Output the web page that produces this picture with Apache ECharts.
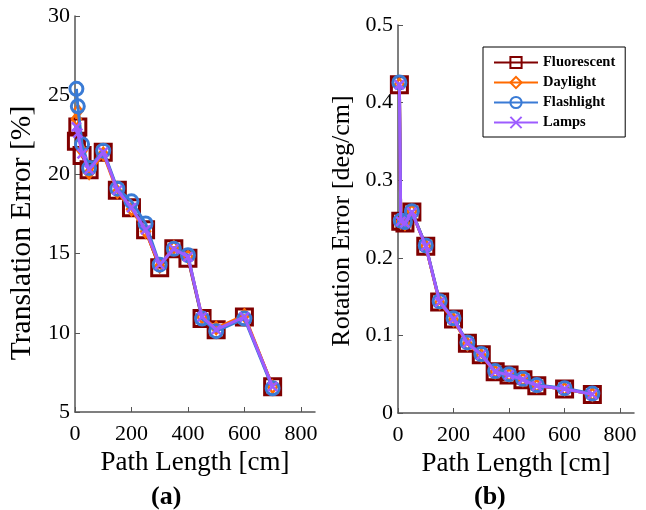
<!DOCTYPE html>
<html>
<head>
<meta charset="utf-8">
<script src="https://cdn.jsdelivr.net/npm/echarts@6/dist/echarts.min.js"></script>
<style>html,body{margin:0;padding:0;background:#fff}#c{width:646px;height:510px}</style>
</head>
<body>
<div id="c"></div>
<script>
// Path lengths [cm]
const pathLength = [5, 10, 25, 50, 100, 150, 200, 250, 300, 350, 400, 450, 500, 600, 700];
const seriesNames = ['Fluorescent', 'Daylight', 'Flashlight', 'Lamps'];
// Translation error [%]
const transFluorescent = [22.1, 23.0, 21.2, 20.3, 21.4, 19.0, 17.9, 16.5, 14.1, 15.3, 14.7, 10.9, 10.2, 11.0, 6.6];
const transDaylight    = [23.5, 24.0, 21.5, 20.1, 21.3, 18.9, 17.8, 16.4, 14.2, 15.4, 14.8, 11.0, 10.3, 11.1, 6.6];
const transFlashlight  = [25.4, 24.3, 21.9, 20.4, 21.5, 19.1, 18.3, 16.9, 14.3, 15.3, 14.9, 10.9, 10.1, 10.9, 6.5];
const transLamps       = [23.0, 22.6, 21.3, 20.3, 21.4, 19.0, 17.9, 16.5, 14.3, 15.3, 14.8, 11.0, 10.2, 11.0, 6.6];
// Rotation error [deg/cm]
const rotFluorescent = [0.423, 0.247, 0.245, 0.259, 0.215, 0.143, 0.121, 0.090, 0.075, 0.053, 0.049, 0.043, 0.035, 0.031, 0.024];
const rotDaylight    = [0.423, 0.246, 0.244, 0.260, 0.215, 0.142, 0.120, 0.089, 0.074, 0.053, 0.049, 0.043, 0.035, 0.031, 0.024];
const rotFlashlight  = [0.426, 0.248, 0.246, 0.260, 0.216, 0.144, 0.122, 0.091, 0.076, 0.054, 0.050, 0.044, 0.036, 0.032, 0.025];
const rotLamps       = [0.423, 0.247, 0.245, 0.259, 0.215, 0.143, 0.121, 0.090, 0.075, 0.053, 0.049, 0.043, 0.035, 0.031, 0.024];
const xTicks = [0, 200, 400, 600, 800];

const FONT = '"Liberation Serif", "DejaVu Serif", serif';
const colors = ['#800000', '#FF6A00', '#3A7BD5', '#9D5CFF'];
const symbols = ['rect', 'diamond', 'circle', 'path://M0,0L10,10M10,0L0,10'];
const symSizes = [16, [9, 12], 13, 9];
const borderW = [3, 2.5, 3, 2.5];

function pairs(ys) { return pathLength.map((x, i) => [x, ys[i]]); }

function makeSeries(datasets, axisIdx) {
  return datasets.map((ys, k) => ({
    name: seriesNames[k],
    type: 'line',
    xAxisIndex: axisIdx, yAxisIndex: axisIdx,
    data: pairs(ys),
    symbol: symbols[k],
    symbolSize: symSizes[k],
    showAllSymbol: true,
    lineStyle: { color: colors[k], width: 3 },
    itemStyle: { color: 'rgba(0,0,0,0)', borderColor: colors[k], borderWidth: borderW[k] },
    emphasis: { disabled: true },
    animation: false,
    z: 2 + k
  }));
}

function xAxis(gi) {
  return {
    gridIndex: gi, type: 'value', min: 0, max: 850,
    name: 'Path Length [cm]', nameLocation: 'middle', nameGap: 33,
    nameTextStyle: { fontFamily: FONT, fontSize: 27, color: '#000' },
    axisLine: { lineStyle: { color: '#555', width: 1.5 } },
    axisTick: { inside: true, length: 5, customValues: xTicks, lineStyle: { color: '#555' } },
    axisLabel: { customValues: xTicks, margin: 11, fontFamily: FONT, fontSize: 22, color: '#000' },
    splitLine: { show: false }
  };
}
function yAxis(gi, min, max, interval, name, gap, nameSize, namePad) {
  return {
    gridIndex: gi, type: 'value', min: min, max: max, interval: interval,
    name: name, nameLocation: 'middle', nameGap: gap,
    nameTextStyle: { fontFamily: FONT, fontSize: nameSize, color: '#000', padding: namePad },
    axisLine: { show: true, lineStyle: { color: '#555', width: 1.5 } },
    axisTick: { show: true, inside: true, length: 5, lineStyle: { color: '#555' } },
    axisLabel: { margin: 5, fontFamily: FONT, fontSize: 22, color: '#000' },
    splitLine: { show: false }
  };
}

const chart = echarts.init(document.getElementById('c'), null, { renderer: 'canvas' });
chart.setOption({
  backgroundColor: '#fff',
  animation: false,
  grid: [
    { left: 75, top: 16, width: 240, height: 396 },
    { left: 398, top: 25, width: 236, height: 388 }
  ],
  xAxis: [xAxis(0), xAxis(1)],
  yAxis: [
    yAxis(0, 5, 30, 5, 'Translation Error [%]', 38, 29.5, [0, 38, 0, 0]),
    yAxis(1, 0, 0.5, 0.1, 'Rotation Error [deg/cm]', 43, 26, [0, 4, 0, 0])
  ],
  legend: {
    data: seriesNames,
    orient: 'vertical',
    left: 483, top: 47,
    padding: [8, 10, 7, 10],
    itemWidth: 44, itemHeight: 14, itemGap: 5,
    borderColor: '#000', borderWidth: 1,
    backgroundColor: '#fff',
    textStyle: { fontFamily: FONT, fontSize: 14.5, fontWeight: 'bold', color: '#000' }
  },
  graphic: [
    { type: 'text', left: 151, top: 484, style: { text: '(a)', font: 'bold 26px ' + FONT, fill: '#000' } },
    { type: 'text', left: 474, top: 484, style: { text: '(b)', font: 'bold 26px ' + FONT, fill: '#000' } }
  ],
  series: makeSeries([transFluorescent, transDaylight, transFlashlight, transLamps], 0)
    .concat(makeSeries([rotFluorescent, rotDaylight, rotFlashlight, rotLamps], 1))
});
</script>
</body>
</html>
